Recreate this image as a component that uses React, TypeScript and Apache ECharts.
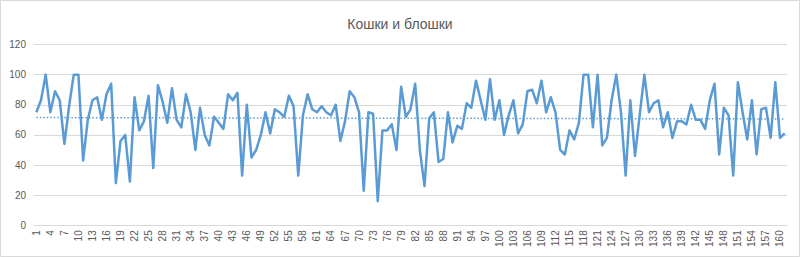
import React, { useEffect, useRef } from "react";
import * as echarts from "echarts";

const titleText = "Кошки и блошки";

const values: number[] = [
  75, 83, 100, 75, 89, 83, 54, 79, 100, 100,
  43, 70, 83, 85, 70, 87, 94, 28, 56, 60,
  29, 85, 63, 69, 86, 38, 93, 82, 68, 91,
  70, 65, 87, 75, 50, 78, 60, 53, 72, 68,
  64, 87, 83, 88, 33, 80, 45, 50, 60, 75,
  61, 77, 75, 72, 86, 79, 33, 73, 87, 77,
  75, 79, 75, 73, 80, 56, 69, 89, 85, 75,
  23, 75, 74, 16, 63, 63, 67, 50, 92, 72,
  77, 94, 50, 26, 71, 75, 42, 44, 75, 55,
  66, 64, 81, 78, 96, 83, 70, 97, 70, 83,
  60, 73, 83, 61, 67, 89, 90, 81, 96, 75,
  85, 75, 50, 47, 63, 57, 68, 100, 100, 65,
  100, 53, 58, 83, 100, 75, 33, 83, 46, 73,
  100, 75, 81, 83, 65, 75, 58, 69, 69, 67,
  80, 70, 70, 64, 83, 94, 47, 78, 73, 33,
  95, 75, 57, 83, 47, 77, 78, 58, 95, 58,
  61,
];

const categories: string[] = values.map((_, i) => String(i + 1));

// linear trendline end values (start, end)
const trendValues: number[] = [71.5, 70.6];

const yTicks = { min: 0, max: 120, interval: 20 };

export default function App() {
  const ref = useRef<HTMLDivElement>(null);

  useEffect(() => {
    if (!ref.current) return;
    const chart = echarts.init(ref.current, undefined, { renderer: "svg" });
    const textColor = "#595959";
    const gridColor = "#D9D9D9";
    const lineColor = "#5B9BD5";
    chart.setOption({
      animation: false,
      backgroundColor: "#FFFFFF",
      title: {
        text: titleText,
        left: "center",
        top: 12,
        textStyle: {
          fontFamily: "'Liberation Sans Narrow', 'Liberation Sans', sans-serif",
          fontSize: 14,
          fontWeight: "normal",
          color: textColor,
        },
      },
      graphic: [
        {
          type: "rect",
          shape: { x: 0.5, y: 0.5, width: 799, height: 256 },
          style: { fill: "none", stroke: gridColor, lineWidth: 1 },
          silent: true,
        },
      ],
      grid: { left: 34, right: 13, top: 44.5, bottom: 31.7, containLabel: false },
      xAxis: {
        type: "category",
        data: categories,
        boundaryGap: true,
        axisTick: { show: false },
        axisLine: { show: true, lineStyle: { color: gridColor, width: 1 } },
        axisLabel: {
          interval: 2,
          rotate: 90,
          margin: 5,
          fontSize: 10,
          fontFamily: "'Liberation Sans', sans-serif",
          color: textColor,
        },
        splitLine: { show: false },
      },
      yAxis: {
        type: "value",
        min: yTicks.min,
        max: yTicks.max,
        interval: yTicks.interval,
        axisLine: { show: false },
        axisTick: { show: false },
        axisLabel: {
          margin: 8,
          fontSize: 10,
          fontFamily: "'Liberation Sans', sans-serif",
          color: textColor,
        },
        splitLine: { lineStyle: { color: gridColor, width: 1 } },
      },
      series: [
        {
          type: "line",
          data: values,
          symbol: "none",
          smooth: false,
          lineStyle: { color: lineColor, width: 2.5, join: "round" },
          itemStyle: { color: lineColor },
          markLine: {
            silent: true,
            symbol: ["none", "none"],
            label: { show: false },
            lineStyle: { color: lineColor, type: [1.5, 2], width: 1.5 },
            data: [
              [
                { coord: [categories[0], trendValues[0]] },
                { coord: [categories[categories.length - 1], trendValues[1]] },
              ],
            ],
          },
        },
      ],
    });
    return () => chart.dispose();
  }, []);

  return (
    <div
      ref={ref}
      style={{ position: "absolute", left: 0, top: 0, width: 800, height: 257 }}
    />
  );
}
